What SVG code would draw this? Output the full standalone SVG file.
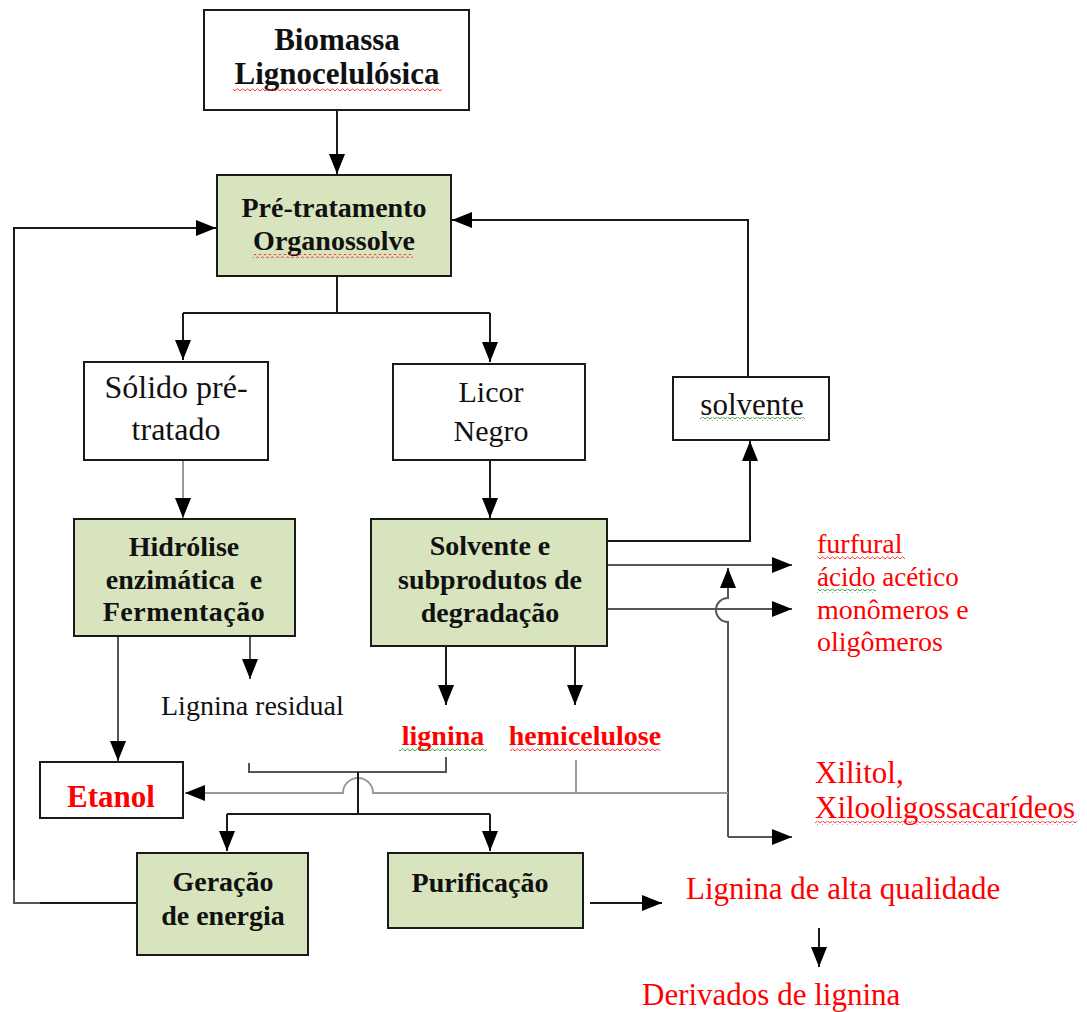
<svg xmlns="http://www.w3.org/2000/svg" width="1087" height="1012" viewBox="0 0 1087 1012">
  <defs>
    <marker id="ah" markerWidth="20" markerHeight="16" refX="20" refY="8" orient="auto" markerUnits="userSpaceOnUse">
      <path d="M0,0 L20,8 L0,16 z" fill="#000"/>
    </marker>
    <pattern id="wavyRed" width="5" height="4" patternUnits="userSpaceOnUse">
      <path d="M0,3 L2.5,0.8 L5,3" fill="none" stroke="#ff2020" stroke-width="0.9"/>
    </pattern>
    <pattern id="wavyGreen" width="5" height="4" patternUnits="userSpaceOnUse">
      <path d="M0,3 L2.5,0.8 L5,3" fill="none" stroke="#2a9a2a" stroke-width="0.9"/>
    </pattern>
  </defs>
  <style>
    .box { fill: #ffffff; stroke: #1a1a1a; stroke-width: 2; }
    .step { fill: #d7e4bd; stroke: #1a1a1a; stroke-width: 2; }
    .t { font-family: "Liberation Serif", "Times New Roman", serif; fill: #111; text-anchor: middle; }
    .b { font-weight: bold; font-size: 28px; }
    .r { font-size: 32px; }
    .big { font-size: 31px; }
    .red { fill: #ff0000; }
    .left { text-anchor: start; }
    .ln { fill: none; stroke: #1a1a1a; stroke-width: 2; }
    .lg { fill: none; stroke: #9a9a9a; stroke-width: 2; }
    .lm { fill: none; stroke: #555; stroke-width: 2; }
    .arr { marker-end: url(#ah); }
  </style>
  <rect width="1087" height="1012" fill="#ffffff"/>

  <!-- connectors -->
  <g id="connectors">
    <path class="ln arr" d="M337,110 V174"/>
    <path class="ln" d="M337,276 V313" stroke-width="2.5"/>
    <path class="ln" d="M183,313 H490"/>
    <path class="ln arr" d="M183,313 V360"/>
    <path class="ln arr" d="M490,313 V362"/>
    <path class="lg arr" d="M183,460 V518"/>
    <path class="ln arr" d="M490,460 V518"/>
    <path class="ln arr" d="M608,541 H750 V441"/>
    <path class="ln arr" d="M748,377 V220 H452"/>
    <path class="lm arr" d="M608,565 H792"/>
    <path class="lm arr" d="M608,609 H792"/>
    <path class="lm arr" d="M728,837 V622 A12,12 0 0,1 728,598 V568"/>
    <path class="lm arr" d="M728,837 H792"/>
    <path class="lg arr" d="M728,793 H373 A15,15 0 0,0 343,793 H185"/>
    <path class="lg" d="M576,760 V793"/>
    <path class="lm" d="M249,763 V772 H446 V757"/>
    <path class="ln" d="M358,772 V814"/>
    <path class="ln" d="M227,814 H490"/>
    <path class="ln arr" d="M227,814 V851"/>
    <path class="ln arr" d="M490,814 V851"/>
    <path class="lm arr" d="M118,636 V761"/>
    <path class="lm arr" d="M250,636 V679"/>
    <path class="ln arr" d="M446,646 V705"/>
    <path class="ln arr" d="M575,646 V705"/>
    <path class="ln arr" d="M137,903 H14 V228 H216"/>
    <path class="lm" d="M14,880 V903 H40" stroke-width="2.5"/>
    <path class="ln arr" d="M590,903 H662"/>
    <path class="ln arr" d="M819,928 V967"/>
  </g>

  <!-- nodes -->
  <g id="biomassa">
    <rect class="box" x="204" y="10" width="265" height="100"/>
    <text class="t b big" x="337" y="50">Biomassa</text>
    <text class="t b big" x="337" y="84">Lignocelulósica</text>
    <rect x="233" y="88" width="209" height="4" fill="url(#wavyRed)"/>
  </g>

  <g id="pretratamento">
    <rect class="step" x="217" y="175" width="234" height="101"/>
    <text class="t b" x="334" y="217">Pré-tratamento</text>
    <text class="t b" x="334" y="250">Organossolve</text>
    <rect x="253" y="254" width="160" height="4" fill="url(#wavyRed)"/>
  </g>

  <g id="solido">
    <rect class="box" x="84" y="362" width="184" height="98"/>
    <text class="t r" x="176" y="398">Sólido pré-</text>
    <text class="t r" x="176" y="440">tratado</text>
  </g>

  <g id="licor">
    <rect class="box" x="393" y="364" width="192" height="96"/>
    <text class="t" x="491" y="402" font-size="30">Licor</text>
    <text class="t" x="491" y="441" font-size="30">Negro</text>
  </g>

  <g id="solvente">
    <rect class="box" x="673" y="377" width="156" height="63"/>
    <text class="t" x="752" y="415" font-size="31">solvente</text>
    <rect x="700" y="417" width="105" height="4" fill="url(#wavyGreen)"/>
  </g>

  <g id="hidrolise">
    <rect class="step" x="74" y="519" width="221" height="117"/>
    <text class="t b" x="184" y="556">Hidrólise</text>
    <text class="t b" x="184" y="589" word-spacing="8">enzimática e</text>
    <text class="t b" x="184" y="621" letter-spacing="0.5">Fermentação</text>
  </g>

  <g id="subprodutos">
    <rect class="step" x="371" y="519" width="236" height="127"/>
    <text class="t b" x="490" y="555">Solvente e</text>
    <text class="t b" x="490" y="589">subprodutos de</text>
    <text class="t b" x="490" y="622">degradação</text>
  </g>

  <g id="produtos-volateis">
    <text class="t red left" x="817" y="553" font-size="28">furfural</text>
    <rect x="817" y="555" width="88" height="4" fill="url(#wavyRed)"/>
    <text class="t red left" x="817" y="586" font-size="27">ácido acético</text>
    <rect x="817" y="589" width="59" height="4" fill="url(#wavyGreen)"/>
    <text class="t red left" x="817" y="619" font-size="28">monômeros e</text>
    <text class="t red left" x="817" y="651" font-size="28">oligômeros</text>
  </g>

  <g id="lignina-residual">
    <text class="t left" x="161" y="715" font-size="28">Lignina residual</text>
  </g>

  <g id="lignina">
    <text class="t b red" x="443" y="745">lignina</text>
    <rect x="399" y="747" width="88" height="4" fill="url(#wavyGreen)"/>
  </g>

  <g id="hemicelulose">
    <text class="t b red" x="585" y="745">hemicelulose</text>
    <rect x="510" y="747" width="150" height="4" fill="url(#wavyRed)"/>
  </g>

  <g id="etanol">
    <rect class="box" x="40" y="762" width="143" height="56"/>
    <text class="t b big red" x="111" y="807">Etanol</text>
  </g>

  <g id="xilitol">
    <text class="t red left" x="815" y="783" font-size="31">Xilitol,</text>
    <text class="t red left" x="815" y="818" font-size="31">Xilooligossacarídeos</text>
    <rect x="815" y="821" width="262" height="4" fill="url(#wavyRed)"/>
  </g>

  <g id="geracao">
    <rect class="step" x="137" y="853" width="171" height="102"/>
    <text class="t b" x="223" y="891">Geração</text>
    <text class="t b" x="223" y="925">de energia</text>
  </g>

  <g id="purificacao">
    <rect class="step" x="388" y="853" width="195" height="75"/>
    <text class="t b" x="480" y="892">Purificação</text>
  </g>

  <g id="lignina-alta">
    <text class="t red left" x="686" y="899" font-size="31">Lignina de alta qualidade</text>
  </g>

  <g id="derivados">
    <text class="t red left" x="642" y="1005" font-size="31">Derivados de lignina</text>
  </g>
</svg>
